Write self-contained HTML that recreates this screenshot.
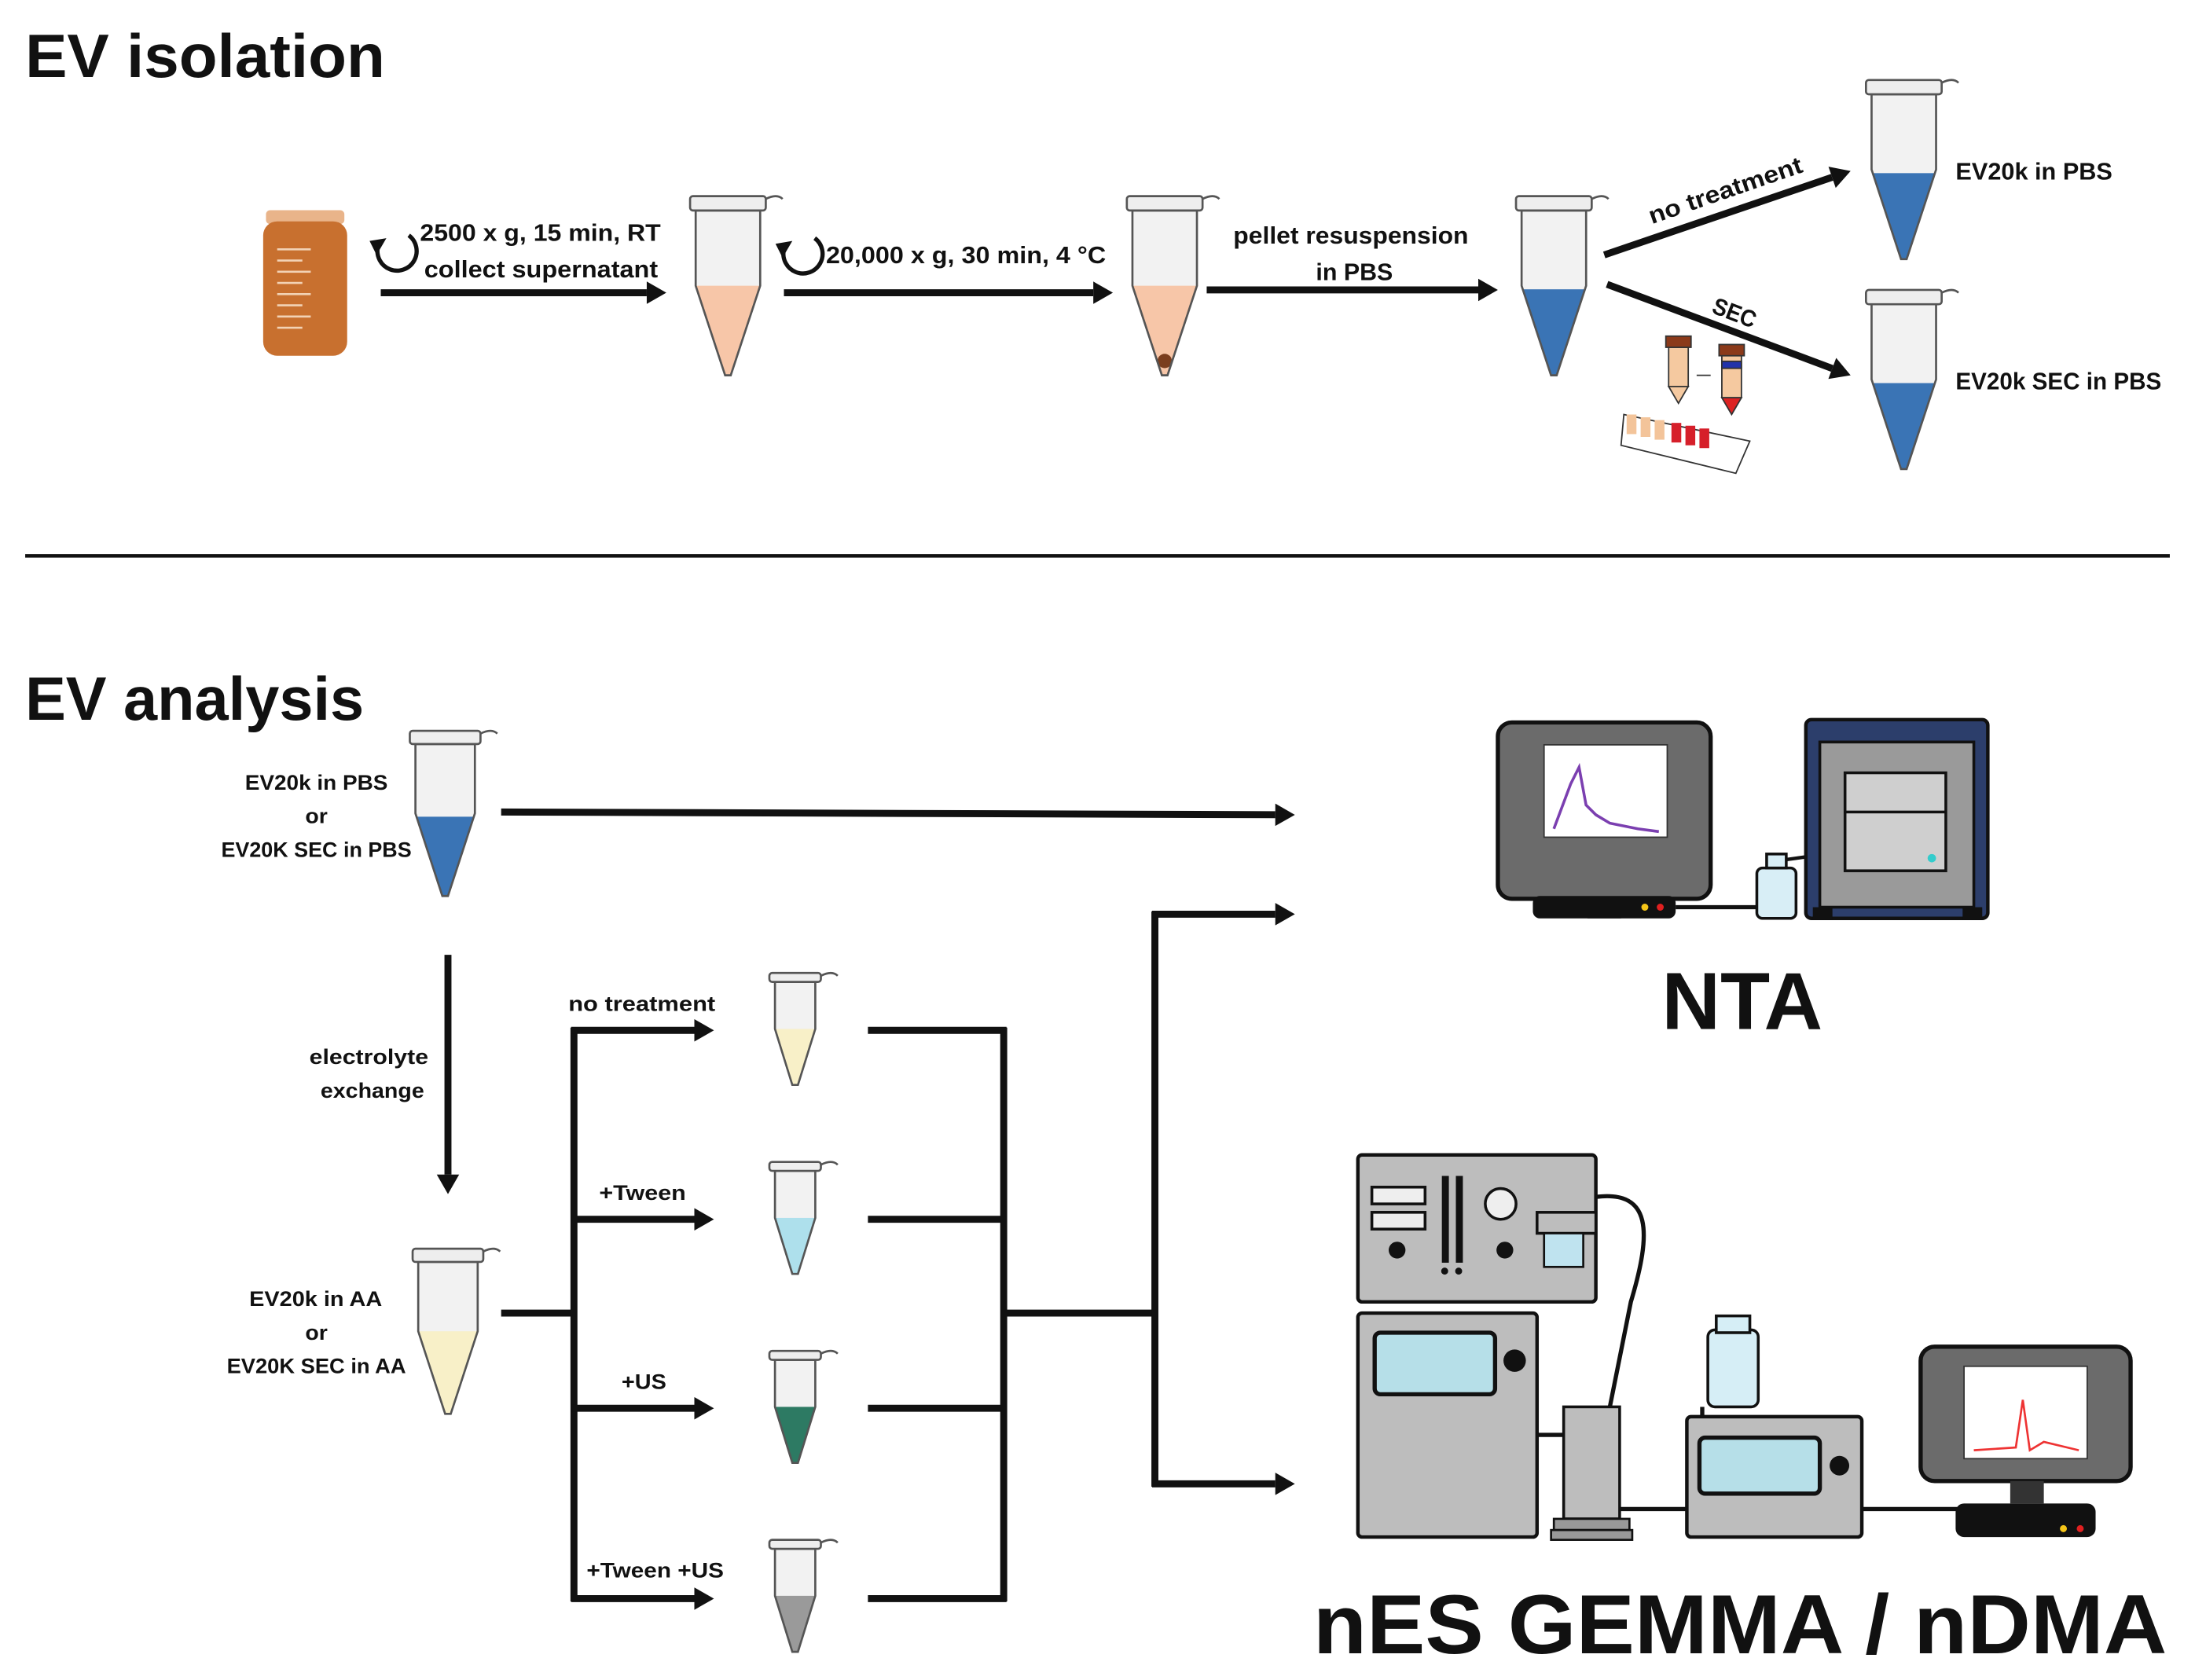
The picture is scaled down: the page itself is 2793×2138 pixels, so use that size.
<!DOCTYPE html>
<html><head><meta charset="utf-8"><style>
html,body{margin:0;padding:0;background:#fff;}
svg{display:block;}
text{font-family:"Liberation Sans",sans-serif;font-weight:bold;fill:#111;}
</style></head><body>
<svg id="s" width="2793" height="2138" viewBox="0 0 1568 1200" xmlns="http://www.w3.org/2000/svg">
<defs>
<marker id="ah" markerWidth="8" markerHeight="8" refX="6" refY="4" orient="auto" markerUnits="userSpaceOnUse" viewBox="0 0 8 8">
</marker>
</defs>
<rect width="1568" height="1200" fill="#fff"/>
<g id="g"></g>
<!-- Titles -->
<text x="18" y="55" font-size="44" textLength="257" lengthAdjust="spacingAndGlyphs">EV isolation</text>
<text x="18" y="514" font-size="44" textLength="242" lengthAdjust="spacingAndGlyphs">EV analysis</text>
<line x1="18" y1="397" x2="1550" y2="397" stroke="#111" stroke-width="2.5"/>

<!-- blood bag -->
<rect x="190" y="150" width="56" height="10" rx="3" fill="#e9b48a"/>
<rect x="188" y="158" width="60" height="96" rx="10" fill="#c8702f"/>
<g stroke="#f2d2b5" stroke-width="1.5">
<line x1="198" y1="178" x2="222" y2="178"/><line x1="198" y1="186" x2="216" y2="186"/><line x1="198" y1="194" x2="222" y2="194"/><line x1="198" y1="202" x2="216" y2="202"/><line x1="198" y1="210" x2="222" y2="210"/><line x1="198" y1="218" x2="216" y2="218"/><line x1="198" y1="226" x2="222" y2="226"/><line x1="198" y1="234" x2="216" y2="234"/>
</g>

<!-- isolation texts -->
<text x="300" y="172" font-size="17" textLength="172" lengthAdjust="spacingAndGlyphs">2500 x g, 15 min, RT</text>
<text x="303" y="198" font-size="17" textLength="167" lengthAdjust="spacingAndGlyphs">collect supernatant</text>
<text x="590" y="188" font-size="17" textLength="200" lengthAdjust="spacingAndGlyphs">20,000 x g, 30 min, 4 °C</text>
<text x="881" y="174" font-size="17" textLength="168" lengthAdjust="spacingAndGlyphs">pellet resuspension</text>
<text x="940" y="200" font-size="17" textLength="55" lengthAdjust="spacingAndGlyphs">in PBS</text>
<text x="1397" y="128" font-size="17" textLength="112" lengthAdjust="spacingAndGlyphs">EV20k in PBS</text>
<text x="1397" y="278" font-size="17" textLength="147" lengthAdjust="spacingAndGlyphs">EV20k SEC in PBS</text>
<text x="0" y="0" font-size="17" textLength="115" lengthAdjust="spacingAndGlyphs" transform="translate(1180,160) rotate(-19)">no treatment</text>
<text x="0" y="0" font-size="17" textLength="32" lengthAdjust="spacingAndGlyphs" transform="translate(1222,223) rotate(21)">SEC</text>

<!-- analysis texts -->
<g font-size="15">
<text x="175" y="564" textLength="102" lengthAdjust="spacingAndGlyphs">EV20k in PBS</text>
<text x="218" y="588" textLength="16" lengthAdjust="spacingAndGlyphs">or</text>
<text x="158" y="612" textLength="136" lengthAdjust="spacingAndGlyphs">EV20K SEC in PBS</text>
<text x="221" y="760" textLength="85" lengthAdjust="spacingAndGlyphs">electrolyte</text>
<text x="229" y="784" textLength="74" lengthAdjust="spacingAndGlyphs">exchange</text>
<text x="178" y="933" textLength="95" lengthAdjust="spacingAndGlyphs">EV20k in AA</text>
<text x="218" y="957" textLength="16" lengthAdjust="spacingAndGlyphs">or</text>
<text x="162" y="981" textLength="128" lengthAdjust="spacingAndGlyphs">EV20K SEC in AA</text>
<text x="406" y="722" textLength="105" lengthAdjust="spacingAndGlyphs">no treatment</text>
<text x="428" y="857" textLength="62" lengthAdjust="spacingAndGlyphs">+Tween</text>
<text x="444" y="992" textLength="32" lengthAdjust="spacingAndGlyphs">+US</text>
<text x="419" y="1127" textLength="98" lengthAdjust="spacingAndGlyphs">+Tween +US</text>
</g>
<text x="1187" y="735" font-size="58" textLength="115" lengthAdjust="spacingAndGlyphs">NTA</text>
<text x="938" y="1181" font-size="60" textLength="610" lengthAdjust="spacingAndGlyphs">nES GEMMA / nDMA</text>

<!-- NTA setup -->
<rect x="1070" y="516" width="152" height="126" rx="10" fill="#6b6b6b" stroke="#111" stroke-width="3"/>
<rect x="1103" y="532" width="88" height="66" fill="#fff" stroke="#333"/>
<path d="M1110 592 L1122 560 L1128 548 L1133 575 L1140 582 L1150 588 L1170 592 L1185 594" stroke="#7b3fb0" stroke-width="2" fill="none"/>
<rect x="1134" y="642" width="24" height="14" fill="#333"/>
<rect x="1095" y="640" width="102" height="16" rx="5" fill="#111"/>
<circle cx="1175" cy="648" r="2.5" fill="#f5c518"/><circle cx="1186" cy="648" r="2.5" fill="#e02020"/>
<line x1="1197" y1="648" x2="1255" y2="648" stroke="#111" stroke-width="3"/>
<rect x="1255" y="620" width="28" height="36" rx="4" fill="#d8eef6" stroke="#111" stroke-width="2"/>
<rect x="1262" y="610" width="14" height="10" fill="#d8eef6" stroke="#111" stroke-width="2"/>
<line x1="1276" y1="614" x2="1340" y2="605" stroke="#111" stroke-width="2.5"/>
<rect x="1290" y="514" width="130" height="142" rx="4" fill="#2c3e6b" stroke="#111" stroke-width="2.5"/>
<rect x="1300" y="530" width="110" height="118" fill="#9a9a9a" stroke="#111" stroke-width="2"/>
<rect x="1318" y="552" width="72" height="70" fill="#cfcfcf" stroke="#111" stroke-width="2"/>
<line x1="1318" y1="580" x2="1390" y2="580" stroke="#111" stroke-width="2"/>
<circle cx="1380" cy="613" r="3" fill="#3cc"/>
<rect x="1295" y="648" width="14" height="9" fill="#111"/><rect x="1402" y="648" width="14" height="9" fill="#111"/>

<!-- nES GEMMA setup -->
<rect x="970" y="825" width="170" height="105" rx="3" fill="#bdbdbd" stroke="#111" stroke-width="2.5"/>
<rect x="980" y="848" width="38" height="12" fill="#eee" stroke="#111" stroke-width="2"/>
<rect x="980" y="866" width="38" height="12" fill="#eee" stroke="#111" stroke-width="2"/>
<rect x="1030" y="840" width="5" height="62" fill="#111"/><rect x="1040" y="840" width="5" height="62" fill="#111"/>
<circle cx="1072" cy="860" r="11" fill="#eee" stroke="#111" stroke-width="2"/>
<circle cx="998" cy="893" r="6" fill="#111"/><circle cx="1075" cy="893" r="6" fill="#111"/>
<circle cx="1032" cy="908" r="2.5" fill="#111"/><circle cx="1042" cy="908" r="2.5" fill="#111"/>
<rect x="1098" y="866" width="42" height="15" fill="#bdbdbd" stroke="#111" stroke-width="2"/>
<rect x="1103" y="881" width="28" height="24" fill="#bfe3ef" stroke="#111" stroke-width="1.5"/>
<path d="M1140 855 C1180 850,1180 880,1165 930 L1150 1005" stroke="#111" stroke-width="3" fill="none"/>
<rect x="970" y="938" width="128" height="160" rx="3" fill="#bdbdbd" stroke="#111" stroke-width="2.5"/>
<rect x="982" y="952" width="86" height="44" rx="4" fill="#b6dfe8" stroke="#111" stroke-width="3"/>
<circle cx="1082" cy="972" r="8" fill="#111"/>
<line x1="1098" y1="1025" x2="1117" y2="1025" stroke="#111" stroke-width="3"/>
<rect x="1117" y="1005" width="40" height="80" fill="#bdbdbd" stroke="#111" stroke-width="2"/>
<rect x="1110" y="1085" width="54" height="8" fill="#999" stroke="#111" stroke-width="1.5"/>
<rect x="1108" y="1093" width="58" height="7" fill="#999" stroke="#111" stroke-width="1.5"/>
<line x1="1157" y1="1078" x2="1205" y2="1078" stroke="#111" stroke-width="3"/>
<rect x="1220" y="950" width="36" height="55" rx="5" fill="#d6eef6" stroke="#111" stroke-width="2"/>
<rect x="1226" y="940" width="24" height="12" fill="#d6eef6" stroke="#111" stroke-width="2"/>
<line x1="1216" y1="1005" x2="1216" y2="1012" stroke="#111" stroke-width="3"/>
<rect x="1205" y="1012" width="125" height="86" rx="3" fill="#bdbdbd" stroke="#111" stroke-width="2.5"/>
<rect x="1214" y="1027" width="86" height="40" rx="4" fill="#b6dfe8" stroke="#111" stroke-width="3"/>
<circle cx="1314" cy="1047" r="7" fill="#111"/>
<line x1="1330" y1="1078" x2="1400" y2="1078" stroke="#111" stroke-width="3"/>
<rect x="1372" y="962" width="150" height="96" rx="10" fill="#6b6b6b" stroke="#111" stroke-width="3"/>
<rect x="1403" y="976" width="88" height="66" fill="#fff" stroke="#333"/>
<path d="M1410 1036 L1440 1034 L1445 1000 L1450 1036 L1460 1030 L1485 1036" stroke="#e33" stroke-width="1.5" fill="none"/>
<rect x="1436" y="1058" width="24" height="16" fill="#333"/>
<rect x="1397" y="1074" width="100" height="24" rx="6" fill="#111"/>
<circle cx="1474" cy="1092" r="2.5" fill="#f5c518"/><circle cx="1486" cy="1092" r="2.5" fill="#e02020"/>

<!-- SEC illustration -->
<g stroke="#333" stroke-width="1">
<rect x="1192" y="248" width="14" height="28" fill="#f5c9a0"/>
<path d="M1192 276 L1206 276 L1199 288 Z" fill="#f5c9a0"/>
<rect x="1190" y="240" width="18" height="8" fill="#8b3a1a"/>
<line x1="1212" y1="268" x2="1222" y2="268"/>
<rect x="1230" y="254" width="14" height="30" fill="#f5c9a0"/>
<rect x="1230" y="258" width="14" height="5" fill="#2233aa"/>
<path d="M1230 284 L1244 284 L1237 296 Z" fill="#d22"/>
<rect x="1228" y="246" width="18" height="8" fill="#8b3a1a"/>
<path d="M1160 296 L1250 315 L1240 338 L1158 318 Z" fill="#fff"/>
</g>
<g fill="#f3c49a"><rect x="1162" y="296" width="7" height="14"/><rect x="1172" y="298" width="7" height="14"/><rect x="1182" y="300" width="7" height="14"/></g>
<g fill="#d61f2a"><rect x="1194" y="302" width="7" height="14"/><rect x="1204" y="304" width="7" height="14"/><rect x="1214" y="306" width="7" height="14"/></g>
</svg>
<script>
var g=document.getElementById('g'),NS='http://www.w3.org/2000/svg',h='';
function ln(x1,y1,x2,y2,arrow,w){w=w||5;
 var dx=x2-x1,dy=y2-y1,L=Math.hypot(dx,dy),ux=dx/L,uy=dy/L;
 var ex=arrow?x2-ux*14:x2,ey=arrow?y2-uy*14:y2;
 h+='<line x1="'+x1+'" y1="'+y1+'" x2="'+ex+'" y2="'+ey+'" stroke="#111" stroke-width="'+w+'"/>';
 if(arrow){var px=-uy,py=ux;
  h+='<polygon fill="#111" points="'+x2+','+y2+' '+(ex+px*8)+','+(ey+py*8)+' '+(ex-px*8)+','+(ey-py*8)+'"/>';}
}
function tube(cx,top,bot,col,lf,pellet){
 var H=bot-top,w=H*0.36,hw=w/2,cy=top+H*0.08,sy=top+H*0.5;
 var lt=top+H*lf;
 // liquid
 var body='M'+(cx-hw)+' '+cy+' L'+(cx+hw)+' '+cy+' L'+(cx+hw)+' '+sy+' L'+(cx+2)+' '+bot+' L'+(cx-2)+' '+bot+' L'+(cx-hw)+' '+sy+' Z';
 var id='c'+Math.round(cx)+'_'+Math.round(top);
 h+='<clipPath id="'+id+'"><path d="'+body+'"/></clipPath>';
 h+='<path d="'+body+'" fill="#f2f2f2"/>';
 if(col) h+='<rect clip-path="url(#'+id+')" x="'+(cx-hw)+'" y="'+lt+'" width="'+w+'" height="'+(bot-lt)+'" fill="'+col+'"/>';
 if(pellet) h+='<circle cx="'+cx+'" cy="'+(bot-H*0.08)+'" r="'+(H*0.04)+'" fill="#7a3e1e"/>';
 h+='<path d="'+body+'" fill="none" stroke="#555" stroke-width="1.5"/>';
 h+='<rect x="'+(cx-hw-4)+'" y="'+top+'" width="'+(w+8)+'" height="'+(H*0.08)+'" rx="2" fill="#eee" stroke="#555" stroke-width="1.5"/>';
 h+='<path d="M'+(cx+hw+4)+' '+(top+2)+' q8 -4 12 0" fill="none" stroke="#555" stroke-width="1.5"/>';
}
function curl(x,y){h+='<path d="M'+(x+10)+' '+(y-14)+' A14 14 0 1 1 '+(x-12)+' '+(y-6)+'" fill="none" stroke="#111" stroke-width="3"/>'+
 '<polygon fill="#111" points="'+(x-18)+','+(y-10)+' '+(x-6)+','+(y-12)+' '+(x-13)+','+(y)+'"/>';}
// isolation
curl(282,182);curl(572,184);
ln(272,209,476,209,1);ln(560,209,795,209,1);ln(862,207,1070,207,1);
ln(1146,182,1322,122,1);ln(1148,203,1322,268,1);
tube(520,140,268,'#f7c6a8',0.5);
tube(832,140,268,'#f7c6a8',0.5,1);
tube(1110,140,268,'#3a74b5',0.52);
tube(1360,57,185,'#3a74b5',0.52);
tube(1360,207,335,'#3a74b5',0.52);
// analysis
tube(318,522,640,'#3a74b5',0.52);
tube(320,892,1010,'#f8f0c8',0.5);
tube(568,695,775,'#f8f0c8',0.5);
tube(568,830,910,'#aee0ec',0.5);
tube(568,965,1045,'#2d7a63',0.5);
tube(568,1100,1180,'#9a9a9a',0.5);
ln(358,580,925,582,1);
ln(320,682,320,853,1);
ln(358,938,412,938);
ln(410,734,410,1144);
[736,871,1006,1142].forEach(function(y){ln(408,y,510,y,1);ln(620,y,719,y);});
ln(717,734,717,1144);
ln(717,938,827,938);
ln(825,651,825,1062);
ln(823,653,925,653,1);ln(823,1060,925,1060,1);
g.innerHTML=h;
</script>
</body></html>
